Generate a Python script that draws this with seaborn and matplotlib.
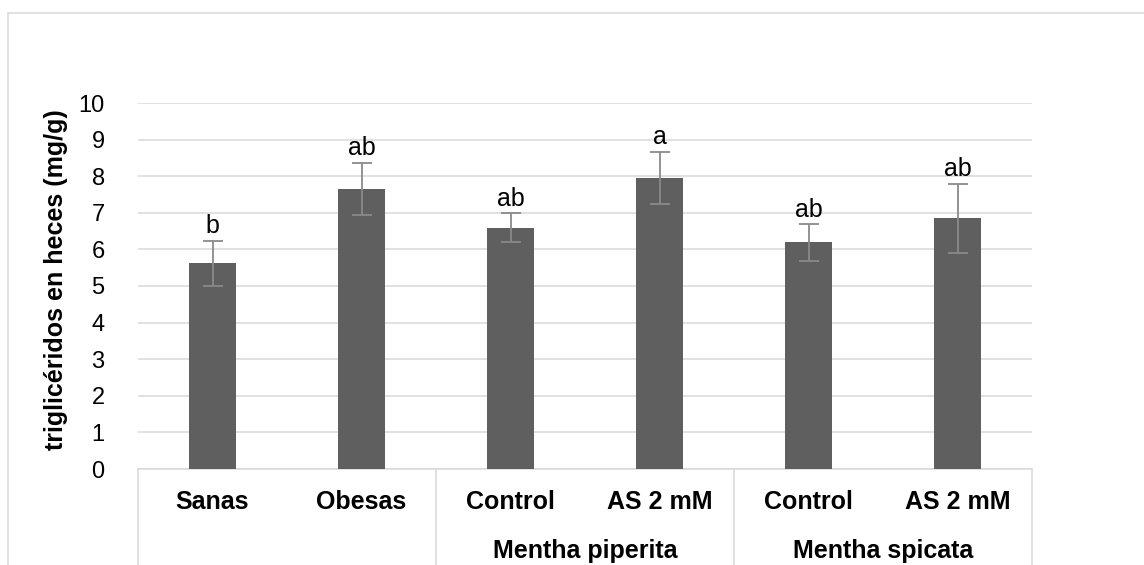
import matplotlib
matplotlib.use("Agg")
import matplotlib.pyplot as plt
import matplotlib.transforms as mtransforms
from matplotlib.patches import Rectangle
import seaborn as sns
import pandas as pd

# ---- data ----
categories = ["Sanas", "Obesas", "Control", "AS 2 mM", "Control", "AS 2 mM"]
groups = ["", "", "Mentha piperita", "Mentha piperita", "Mentha spicata", "Mentha spicata"]
means = [5.62, 7.65, 6.59, 7.95, 6.19, 6.85]
errors = [0.62, 0.72, 0.40, 0.71, 0.50, 0.94]
letters = ["b", "ab", "ab", "a", "ab", "ab"]
y_ticks = [0, 1, 2, 3, 4, 5, 6, 7, 8, 9, 10]
y_label = "triglicéridos en heces (mg/g)"

sns.set_theme(style="white")
plt.rcParams["font.family"] = ["Liberation Sans", "DejaVu Sans"]

W, H = 1144, 565
fig = plt.figure(figsize=(W / 100, H / 100), dpi=100)
ax = fig.add_axes([138 / W, 1 - 469 / H, (1032 - 138) / W, (469 - 103) / H])

keys = [f"{g}|{c}|{i}" for i, (g, c) in enumerate(zip(groups, categories))]
df = pd.DataFrame({"key": keys, "value": means})

sns.barplot(data=df, x="key", y="value", order=keys, color="#5f5f5f",
            saturation=1, width=0.315, errorbar=None, ax=ax, zorder=3)
for p in ax.patches:
    p.set_edgecolor("none")

xs = list(range(len(means)))
ax.errorbar(xs, means, yerr=errors, fmt="none", ecolor="#8a8a8a",
            elinewidth=1.3, capsize=7.5, capthick=1.3, zorder=4)

for x, m, e, lab in zip(xs, means, errors, letters):
    ax.annotate(lab, xy=(x, m + e), xytext=(0, 5.5), textcoords="offset points",
                ha="center", va="baseline", fontsize=18, color="black")

ax.set_ylim(0, 10)
ax.set_xlim(-0.5, len(means) - 0.5)
ax.set_yticks(y_ticks)
ax.set_yticklabels([str(t) for t in y_ticks], fontsize=17, color="black")
ax.yaxis.grid(True, color="#d9d9d9", linewidth=1.1, zorder=0)
ax.xaxis.grid(False)
ax.set_axisbelow(True)
ax.tick_params(axis="y", length=0, pad=24)
ax.set_xticks(xs)
ax.set_xticklabels(categories, fontsize=18, fontweight="bold", color="black")
ax.tick_params(axis="x", length=0, pad=15)
ax.set_xlabel("")
ax.set_ylabel("")
for s in ["top", "right", "left"]:
    ax.spines[s].set_visible(False)
ax.spines["bottom"].set_color("#d9d9d9")
ax.spines["bottom"].set_linewidth(1.1)

trans = mtransforms.blended_transform_factory(ax.transData, ax.transAxes)
# category table separators
for xb in [-0.5, 1.5, 3.5, 5.5]:
    ax.plot([xb, xb], [0, -0.35], transform=trans, color="#d9d9d9",
            linewidth=1.1, clip_on=False, zorder=1)

# group labels
seen = []
for i, g in enumerate(groups):
    if g and g not in seen:
        seen.append(g)
        idx = [j for j, gg in enumerate(groups) if gg == g]
        xc = sum(idx) / len(idx)
        ax.text(xc, (469 - 558) / 366, g, transform=trans, ha="center",
                va="baseline", fontsize=18, fontweight="bold", color="black")

fig.text(56 / W, 1 - 280 / H, y_label, rotation=90, ha="center", va="center",
         fontsize=18, fontweight="bold", color="black")

# outer chart border (cropped)
fig.patches.append(Rectangle((8 / W, -0.2), 1.5, 1.2 - 13 / H, fill=False,
                             edgecolor="#d9d9d9", linewidth=1.1,
                             transform=fig.transFigure, figure=fig))

fig.savefig("out.png", dpi=100, facecolor="white")
